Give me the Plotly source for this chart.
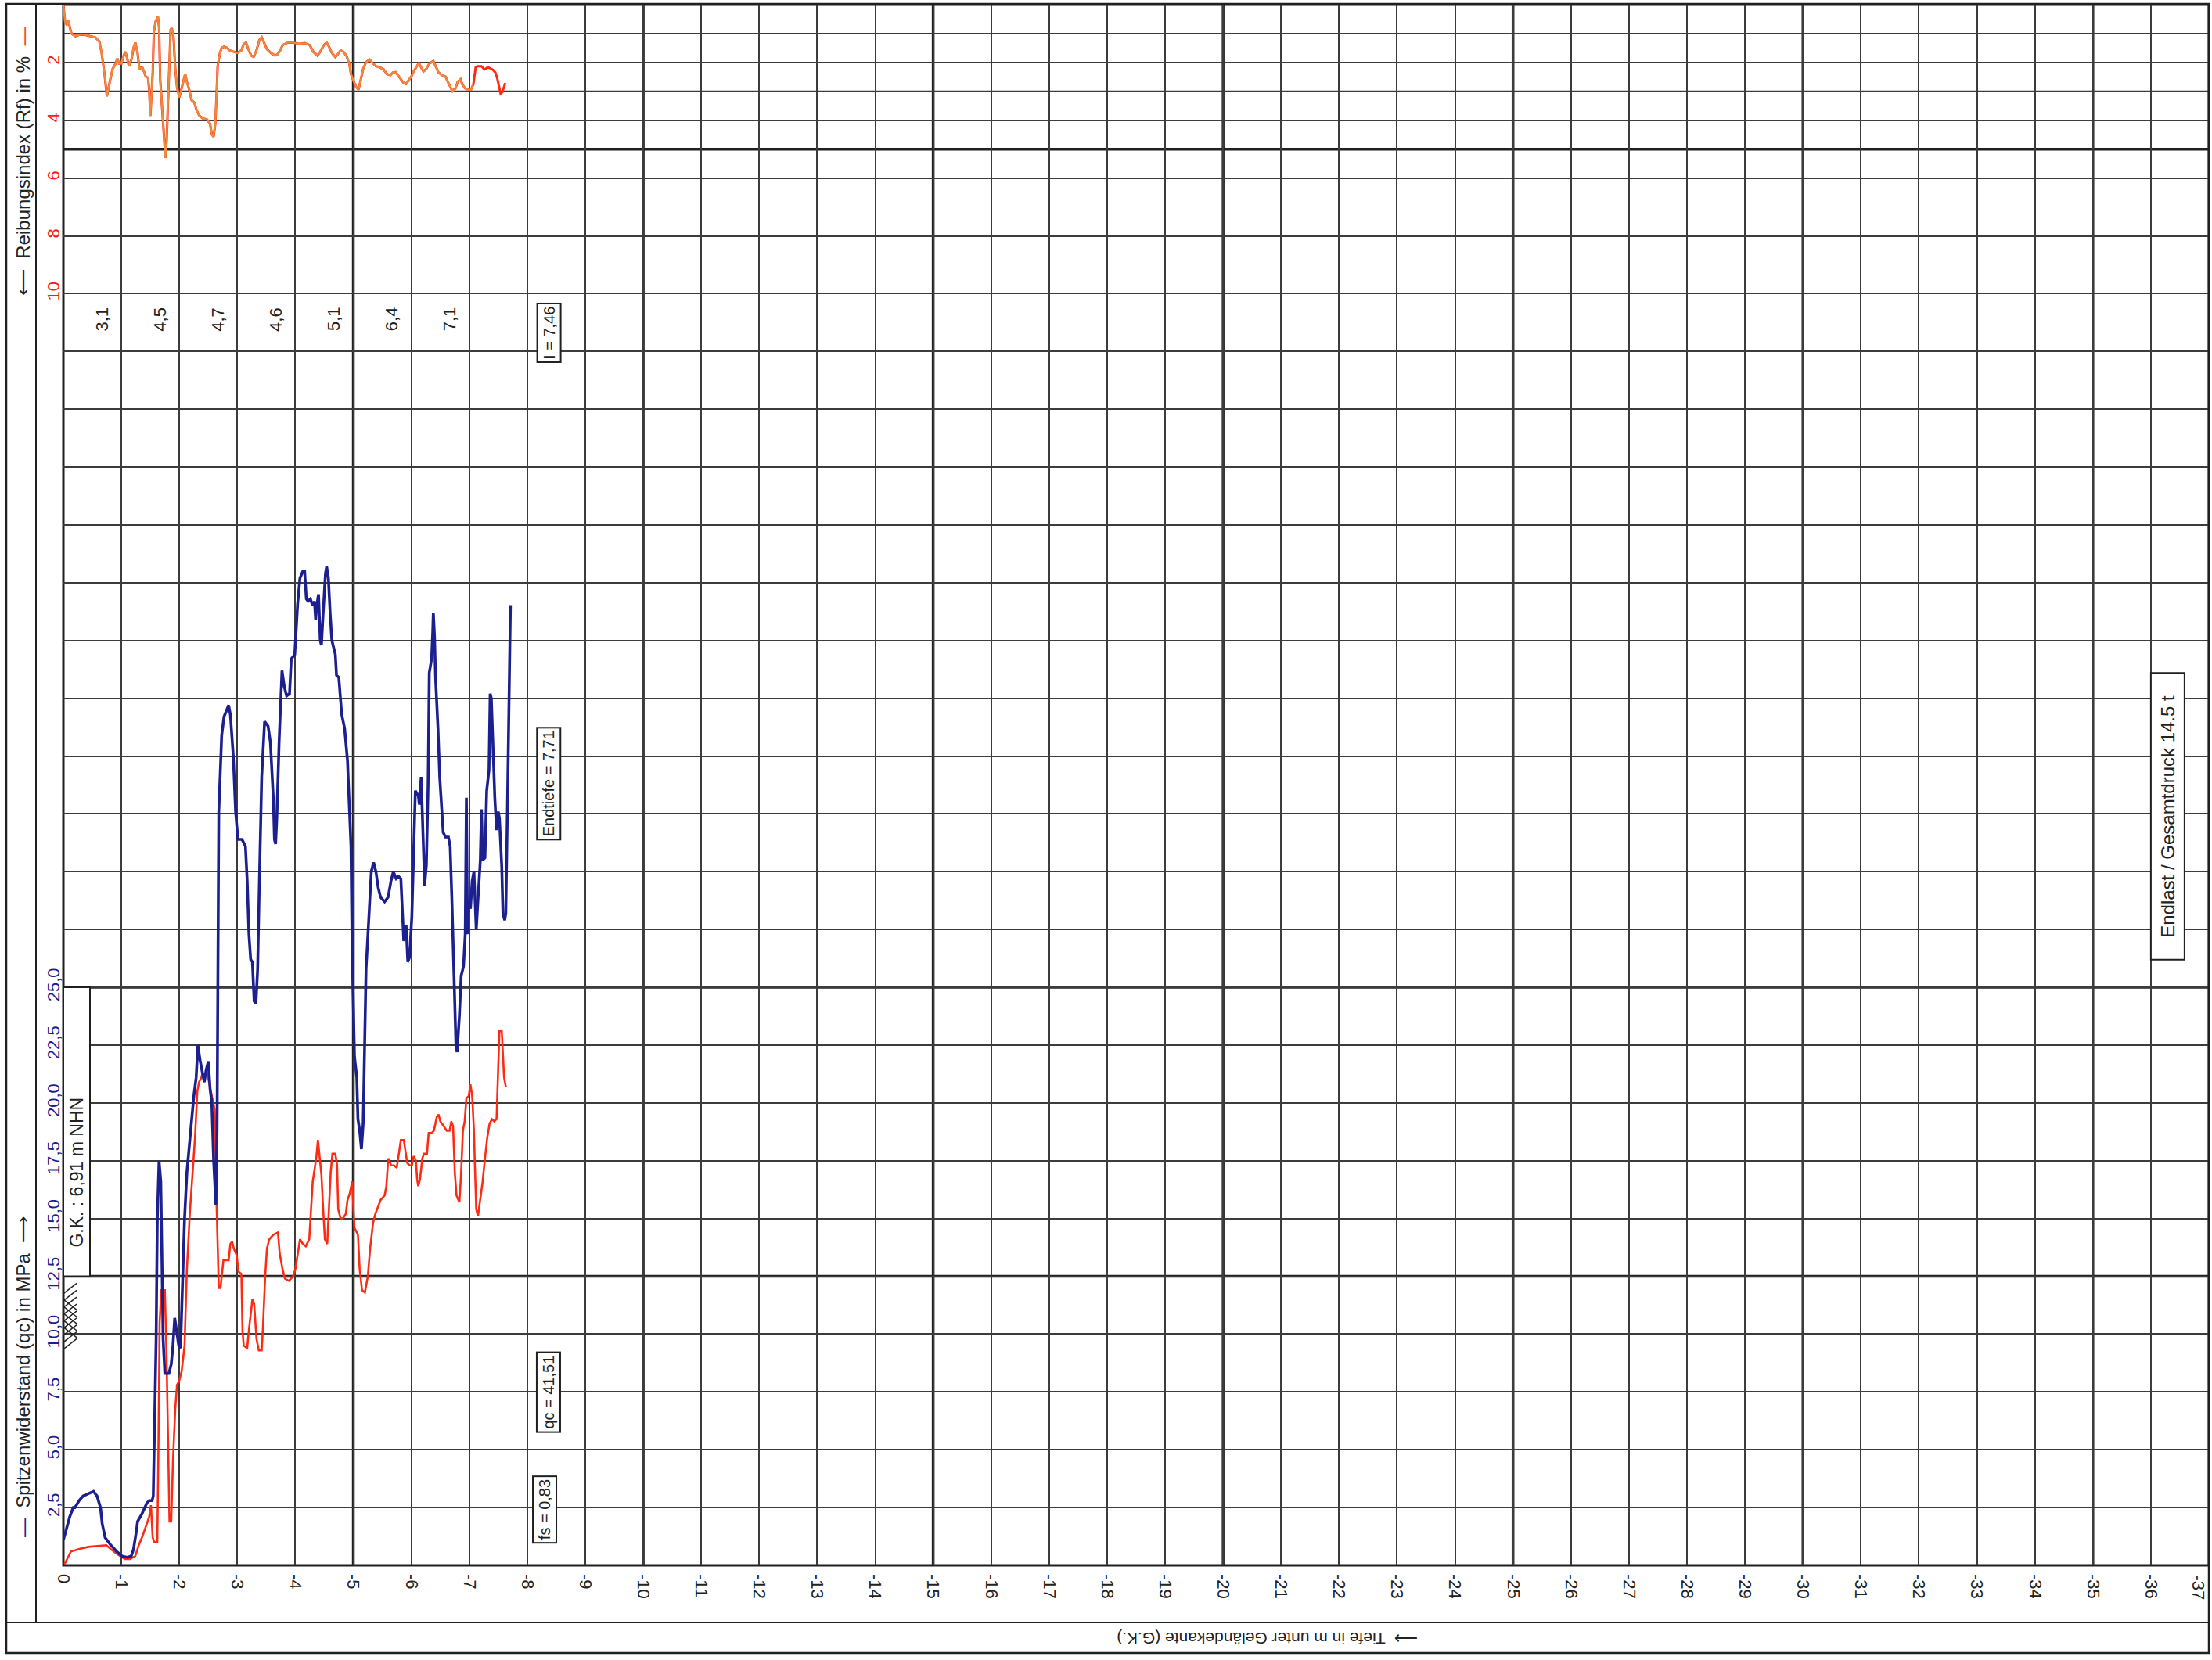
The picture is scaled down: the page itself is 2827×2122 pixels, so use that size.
import plotly.graph_objects as go

# ---------------- data ----------------
qc_depth = [0.00,0.04,0.11,0.17,0.20,0.27,0.34,0.43,0.52,0.58,0.64,0.67,0.72,0.81,0.92,1.01,1.10,1.17,1.21,1.26,
            1.28,1.35,1.39,1.44,1.48,1.53,1.55,1.57,1.60,1.62,1.65,1.68,1.70,1.72,1.75,1.82,1.86,1.89,1.92,1.96,
            1.99,2.02,2.04,2.07,2.09,2.13,2.16,2.20,2.25,2.29,2.32,2.36,2.40,2.43,2.46,2.50,2.53,2.56,2.59,2.63,
            2.65,2.67,2.68,2.73,2.77,2.85,2.88,2.93,2.97,3.01,3.08,3.14,3.17,3.20,3.23,3.26,3.29,3.32,3.35,3.38,
            3.42,3.47,3.53,3.57,3.62,3.64,3.66,3.68,3.72,3.77,3.81,3.85,3.90,3.93,3.99,4.04,4.08,4.13,4.16,4.19,
            4.22,4.26,4.30,4.33,4.35,4.37,4.40,4.43,4.45,4.48,4.52,4.54,4.57,4.60,4.63,4.69,4.71,4.75,4.80,4.85,
            4.90,4.93,4.96,4.98,5.00,5.02,5.06,5.08,5.11,5.14,5.17,5.19,5.22,5.27,5.31,5.35,5.39,5.43,5.47,5.54,
            5.60,5.65,5.69,5.74,5.78,5.82,5.85,5.87,5.91,5.94,5.97,6.01,6.04,6.07,6.12,6.14,6.17,6.19,6.21,6.23,
            6.26,6.29,6.31,6.35,6.37,6.38,6.40,6.42,6.46,6.49,6.55,6.59,6.64,6.67,6.70,6.74,6.77,6.79,6.83,6.86,
            6.90,6.93,6.95,6.97,6.99,7.02,7.05,7.08,7.10,7.12,7.15,7.19,7.21,7.23,7.27,7.30,7.34,7.36,7.38,7.41,
            7.44,7.47,7.50,7.52,7.56,7.58,7.61,7.63,7.66,7.69,7.71]
qc_values = [1.1,1.5,2.1,2.5,2.5,2.8,3.0,3.1,3.2,3.0,2.5,1.8,1.2,0.9,0.6,0.4,0.35,0.4,0.7,1.5,
             1.9,2.2,2.4,2.7,2.8,2.8,3.0,5.2,9.8,15.0,17.5,16.6,12.8,9.8,8.3,8.3,8.7,9.5,10.7,10.1,
             9.5,9.4,11.3,13.1,15.0,17.0,17.9,19.0,20.3,21.1,22.5,21.8,21.3,20.9,21.4,21.8,20.6,20.0,17.6,15.6,
             18.9,26.0,32.6,35.9,36.7,37.2,36.8,35.0,32.6,31.4,31.4,31.1,29.6,27.3,26.2,26.1,24.4,24.3,25.8,29.6,
             34.1,36.5,36.3,35.6,33.2,31.4,31.2,32.3,35.6,38.7,38.0,37.6,37.7,39.2,39.4,41.6,42.7,43.0,43.0,41.8,
             41.7,41.8,41.5,41.7,40.9,41.5,42.0,40.0,39.8,41.2,42.9,43.2,42.7,41.2,40.0,39.4,38.5,38.4,36.8,36.2,
             34.8,32.9,31.1,26.6,23.5,22.0,21.1,19.3,18.8,18.0,19.1,21.8,25.8,28.1,30.0,30.4,30.0,29.3,28.9,28.7,
             28.9,29.6,30.0,29.7,29.8,29.7,28.1,27.0,27.7,26.1,26.3,28.1,30.8,33.5,33.3,32.9,34.1,32.7,30.5,29.4,
             30.3,33.8,38.6,39.2,40.4,41.2,40.2,38.3,36.2,34.1,31.7,31.5,31.5,31.1,28.8,25.0,22.5,22.2,23.8,25.5,
             25.9,27.3,33.2,27.3,28.8,28.4,29.6,30.0,28.4,27.5,28.8,30.5,32.7,30.5,30.6,33.5,34.4,37.7,37.5,35.0,
             33.2,31.8,32.6,32.3,30.2,28.2,27.9,28.2,33.8,38.6,41.5]

fs_depth = [0.02,0.07,0.13,0.20,0.29,0.43,0.56,0.67,0.74,0.81,0.92,1.06,1.15,1.24,1.30,1.37,1.44,1.48,1.51,1.54,
            1.57,1.62,1.64,1.66,1.69,1.75,1.78,1.81,1.83,1.86,1.89,1.93,1.96,2.00,2.04,2.09,2.13,2.18,2.22,2.27,
            2.31,2.34,2.38,2.40,2.44,2.47,2.52,2.56,2.61,2.64,2.67,2.68,2.71,2.74,2.76,2.81,2.85,2.88,2.91,2.94,
            2.99,3.02,3.07,3.09,3.11,3.17,3.20,3.26,3.29,3.33,3.37,3.42,3.44,3.48,3.51,3.55,3.62,3.70,3.73,3.78,
            3.82,3.89,3.96,4.00,4.04,4.08,4.13,4.18,4.24,4.27,4.30,4.33,4.36,4.39,4.42,4.45,4.48,4.51,4.55,4.57,
            4.61,4.64,4.69,4.72,4.74,4.78,4.82,4.87,4.90,4.94,4.98,5.00,5.02,5.08,5.11,5.15,5.20,5.25,5.29,5.34,
            5.38,5.44,5.47,5.54,5.57,5.60,5.61,5.65,5.70,5.75,5.78,5.82,5.87,5.90,5.93,5.97,6.01,6.04,6.08,6.10,
            6.12,6.15,6.19,6.22,6.27,6.30,6.35,6.39,6.44,6.47,6.50,6.56,6.61,6.66,6.69,6.72,6.75,6.78,6.83,6.86,
            6.89,6.92,6.95,6.99,7.02,7.05,7.08,7.10,7.12,7.15,7.20,7.23,7.27,7.31,7.35,7.39,7.43,7.47,7.50,7.52,
            7.56,7.58,7.60,7.63]
fs_values = [0.05,0.3,0.6,0.65,0.72,0.8,0.83,0.87,0.87,0.72,0.5,0.27,0.27,0.4,0.87,1.3,1.8,2.1,2.6,1.2,
             1.0,1.0,5.2,10.5,11.9,11.9,9.0,5.2,1.9,1.9,4.5,6.8,7.8,8.0,8.4,9.5,12.8,15.2,16.6,18.5,
             20.5,20.9,21.1,21.3,21.1,21.4,20.8,20.3,19.7,15.8,12.8,12.0,12.0,12.8,13.2,13.2,13.2,13.9,14.0,13.7,
             13.4,12.7,12.6,10.1,9.5,9.4,10.2,11.5,11.3,9.8,9.3,9.3,10.2,12.5,13.7,14.1,14.3,14.4,13.5,12.8,
             12.4,12.3,12.5,12.8,13.4,14.1,13.9,13.8,14.1,15.2,16.6,17.1,17.6,18.4,17.6,16.9,15.4,14.1,13.9,15.1,
             17.0,17.8,17.8,17.3,15.4,15.0,15.0,15.2,15.8,16.1,16.6,15.5,14.6,14.3,12.8,11.9,11.8,12.5,13.7,14.8,
             15.2,15.6,15.8,16.0,16.4,17.5,17.6,17.3,17.3,17.2,17.8,18.4,18.4,17.8,17.4,17.3,17.3,17.7,17.5,16.7,
             16.4,16.7,17.6,17.8,17.8,18.7,18.7,18.8,19.4,19.5,19.2,19.0,18.8,18.8,19.2,19.0,17.0,16.0,15.7,17.0,
             18.8,19.2,20.2,20.3,20.8,20.3,18.8,17.0,15.4,15.1,16.0,16.6,17.6,18.5,19.1,19.3,19.2,19.3,21.6,23.1,
             23.1,21.9,21.1,20.7]

rf_depth = [0.00,0.03,0.06,0.09,0.11,0.14,0.21,0.28,0.37,0.46,0.55,0.62,0.66,0.71,0.75,0.80,0.85,0.90,0.93,0.96,
            1.00,1.03,1.07,1.10,1.13,1.18,1.21,1.24,1.28,1.31,1.36,1.39,1.42,1.46,1.48,1.50,1.52,1.54,1.56,1.59,
            1.63,1.65,1.67,1.71,1.74,1.76,1.78,1.81,1.83,1.85,1.87,1.90,1.93,1.96,2.00,2.03,2.07,2.10,2.13,2.17,
            2.21,2.26,2.30,2.35,2.41,2.48,2.53,2.56,2.59,2.62,2.64,2.66,2.70,2.73,2.77,2.82,2.87,2.93,3.00,3.07,
            3.11,3.15,3.19,3.24,3.28,3.33,3.38,3.42,3.47,3.51,3.58,3.65,3.69,3.74,3.78,3.87,3.96,4.07,4.16,4.25,
            4.31,4.38,4.43,4.49,4.54,4.58,4.63,4.69,4.73,4.78,4.83,4.88,4.93,4.96,5.01,5.05,5.09,5.12,5.17,5.22,
            5.28,5.32,5.39,5.46,5.52,5.58,5.64,5.68,5.73,5.77,5.82,5.86,5.91,5.95,6.00,6.04,6.09,6.13,6.17,6.21,
            6.26,6.31,6.38,6.42,6.47,6.53,6.59,6.63,6.67,6.71,6.76,6.80,6.85,6.88,6.93,6.98,7.03,7.07,7.11,7.14,
            7.21,7.26,7.32,7.36,7.41,7.45,7.48,7.51,7.54,7.57,7.60,7.62]
rf_values = [0.0,0.6,0.7,0.55,0.77,1.0,1.09,1.04,1.04,1.09,1.13,1.27,1.67,2.4,3.17,2.67,2.22,2.04,1.86,2.04,
             2.04,1.81,1.63,1.86,2.13,1.86,1.49,1.31,1.67,2.22,2.17,2.31,2.49,2.53,2.94,3.85,3.03,2.4,0.95,0.59,
             0.41,0.77,2.58,3.85,4.66,5.3,4.75,3.03,1.67,0.86,0.81,1.13,2.22,2.85,3.21,2.94,2.67,2.4,2.67,2.94,
             3.3,3.39,3.67,3.85,3.94,3.98,4.12,4.48,4.57,4.12,3.21,2.13,1.67,1.49,1.45,1.49,1.58,1.63,1.67,1.58,
             1.36,1.31,1.54,1.76,1.81,1.58,1.22,1.13,1.36,1.54,1.67,1.76,1.72,1.58,1.40,1.31,1.31,1.36,1.33,1.40,
             1.63,1.76,1.63,1.40,1.31,1.45,1.67,1.81,1.72,1.58,1.63,1.76,2.04,2.40,2.67,2.85,2.94,2.67,2.22,1.99,
             1.90,1.99,2.13,2.17,2.24,2.40,2.44,2.35,2.33,2.44,2.58,2.69,2.74,2.62,2.49,2.31,2.13,2.02,2.17,2.31,
             2.22,2.04,1.95,2.13,2.35,2.44,2.49,2.67,2.85,2.99,2.90,2.67,2.58,2.76,2.90,2.94,2.94,2.76,2.17,2.13,
             2.13,2.24,2.17,2.20,2.26,2.35,2.53,2.85,3.08,3.03,2.85,2.71]

depth_ticks = list(range(0, 38))
qc_ticks = [2.5 * i for i in range(1, 28)]
qc_labels = ["2,5", "5,0", "7,5", "10,0", "12,5", "15,0", "17,5", "20,0", "22,5", "25,0"]
rf_ticks = [2, 4, 6, 8, 10]
layer_depth = [0.67, 1.67, 2.67, 3.67, 4.67, 5.67, 6.67]
layer_labels = ["3,1", "4,5", "4,7", "4,6", "5,1", "6,4", "7,1"]

# ---------------- geometry ----------------
W, H = 2827, 2122
L, R, T, B = 81, 4, 6, 121
PW, PH = W - L - R, H - T - B
QC_MAX = 67.5
RF_SPAN = QC_MAX / 1.25        # Rf axis: 0 at top, 10 at qc 55

def px(xp):
    return (xp - L) / PW

def py(yp):
    return (H - B - yp) / PH

BLUE = "#1c1f8f"
RED = "#ff2a14"
ORANGE = "#ef8a3c"
GRID = "#3c3c3c"
DARK = "#202020"
FONT = "Liberation Sans, Arial, sans-serif"

fig = go.Figure()
fig.add_trace(go.Scatter(x=[-d for d in fs_depth], y=fs_values, mode="lines",
                         line=dict(color=RED, width=2.6), hoverinfo="skip", showlegend=False))
fig.add_trace(go.Scatter(x=[-d for d in qc_depth], y=qc_values, mode="lines",
                         line=dict(color=BLUE, width=3.6), hoverinfo="skip", showlegend=False))
fig.add_trace(go.Scatter(x=[-d for d in rf_depth], y=rf_values, yaxis="y2", mode="lines",
                         line=dict(color=RED, width=3.0), hoverinfo="skip", showlegend=False))
n_or = sum(1 for d in rf_depth if d <= 7.07)
fig.add_trace(go.Scatter(x=[-d for d in rf_depth[:n_or]], y=rf_values[:n_or], yaxis="y2", mode="lines",
                         line=dict(color=ORANGE, width=2.4), hoverinfo="skip", showlegend=False))

shapes = []
# thick grid lines
for d in range(5, 37, 5):
    shapes.append(dict(type="line", xref="x", yref="paper", x0=-d, x1=-d, y0=0, y1=1,
                       line=dict(color=DARK, width=3.5), layer="between"))
for q in [12.5, 25]:
    shapes.append(dict(type="line", xref="paper", yref="y", x0=0, x1=1, y0=q, y1=q,
                       line=dict(color=DARK, width=3.5), layer="between"))
for r, w in [(1, 2), (3, 2), (5, 3.5)]:
    shapes.append(dict(type="line", xref="paper", yref="y2", x0=0, x1=1, y0=r, y1=r,
                       line=dict(color=GRID if w < 3 else DARK, width=w), layer="between"))
# plot border
shapes.append(dict(type="rect", xref="paper", yref="paper", x0=0, x1=1, y0=0, y1=1,
                   line=dict(color=DARK, width=3), layer="between"))
# outer frame / left strip / bottom strip
shapes.append(dict(type="rect", xref="paper", yref="paper", x0=px(8), x1=1, y0=py(2113), y1=py(5),
                   line=dict(color=DARK, width=2.5)))
shapes.append(dict(type="line", xref="paper", yref="paper", x0=px(46), x1=px(46), y0=py(2074), y1=py(5),
                   line=dict(color=DARK, width=2)))
shapes.append(dict(type="line", xref="paper", yref="paper", x0=px(8), x1=1, y0=py(2074), y1=py(2074),
                   line=dict(color=DARK, width=2)))
# G.K. box
shapes.append(dict(type="rect", xref="paper", yref="y", x0=0, x1=px(115), y0=12.5, y1=25,
                   line=dict(color=DARK, width=2), fillcolor="white", layer="above"))
# Endlast box
shapes.append(dict(type="rect", xref="x", yref="y", x0=-36.0, x1=-36.58, y0=26.2, y1=38.6,
                   line=dict(color=DARK, width=2), fillcolor="white", layer="above"))
# ground hatch symbol
hx0, hx1 = 0.0, -0.23
for i in range(9):
    y0 = 12.2 - i * 0.3
    shapes.append(dict(type="line", xref="x", yref="y", x0=hx0, x1=hx1, y0=y0 - 0.45, y1=y0,
                       line=dict(color=DARK, width=1.5), layer="above"))
for i in range(5):
    y0 = 11.5 - i * 0.3
    shapes.append(dict(type="line", xref="x", yref="y", x0=hx0, x1=hx1, y0=y0, y1=y0 - 0.45,
                       line=dict(color=DARK, width=1.5), layer="above"))

C = dict(xanchor="center", yanchor="middle", showarrow=False)
ann = []
ann.append(dict(xref="paper", yref="paper", x=px(29), y=py(1760), textangle=-90,
                text='<span style="color:%s">—</span>  Spitzenwiderstand (qc) in MPa  ⟶' % BLUE,
                font=dict(size=24, color="#222", family=FONT), **C))
ann.append(dict(xref="paper", yref="paper", x=px(29), y=py(207), textangle=-90,
                text='⟵  Reibungsindex (Rf) in %  <span style="color:#ff3a1a">—</span>',
                font=dict(size=24, color="#222", family=FONT), **C))
ann.append(dict(xref="paper", yref="paper", x=px(1620), y=py(2095), textangle=180,
                text="⟶  Tiefe in m unter Geländekante (G.K.)",
                font=dict(size=21, color="#222", family=FONT), **C))
# last depth label sits at the page edge (kept fully inside the page)
ann.append(dict(xref="x", yref="paper", x=-depth_ticks[-1], y=py(2011), textangle=90,
                text="-%d" % depth_ticks[-1], xanchor="right", yanchor="top", showarrow=False,
                font=dict(size=22, color="#222", family=FONT)))
for d, t in zip(layer_depth, layer_labels):
    ann.append(dict(x=-d, y=53.9, text=t, textangle=-90,
                    font=dict(size=22, color="#222", family=FONT), **C))
box_style = dict(textangle=-90, bordercolor=DARK, borderwidth=2, borderpad=3,
                 bgcolor="white", font=dict(size=20, color="#222", family=FONT), **C)
ann.append(dict(x=-8.37, y=53.3, text="I = 7,46", **box_style))
ann.append(dict(x=-8.37, y=33.8, text="Endtiefe = 7,71", **box_style))
ann.append(dict(x=-8.37, y=7.5, text="qc = 41,51", **box_style))
ann.append(dict(x=-8.30, y=2.4, text="fs = 0,83", **box_style))
ann.append(dict(xref="paper", yref="y", x=px(98), y=17.0, text="G.K. : 6,91 m NHN", textangle=-90,
                font=dict(size=23, color="#222", family=FONT), **C))
ann.append(dict(x=-36.29, y=32.4, text="Endlast / Gesamtdruck 14.5 t", textangle=-90,
                font=dict(size=24, color="#222", family=FONT), **C))

fig.update_layout(
    width=W, height=H, autosize=False,
    margin=dict(l=L, r=R, t=T, b=B, pad=0),
    paper_bgcolor="white", plot_bgcolor="white",
    font=dict(family=FONT),
    showlegend=False,
    xaxis=dict(range=[0, -37], tickvals=[-d for d in depth_ticks],
               ticktext=[("-%d" % d) if d else "0" for d in depth_ticks],
               tickangle=90, tickfont=dict(size=22, color="#222"), ticklabelstandoff=10,
               showgrid=True, gridcolor=GRID, gridwidth=2, zeroline=False, showline=False,
               ticks="", fixedrange=True),
    yaxis=dict(range=[0, QC_MAX], tickvals=qc_ticks,
               ticktext=qc_labels + [""] * (len(qc_ticks) - len(qc_labels)),
               tickangle=-90, tickfont=dict(size=22, color=BLUE),
               showgrid=True, gridcolor=GRID, gridwidth=2, zeroline=False, showline=False,
               ticks="", fixedrange=True),
    yaxis2=dict(range=[RF_SPAN, 0], overlaying="y", side="left", anchor="x",
                tickvals=rf_ticks, ticktext=[str(v) for v in rf_ticks],
                tickangle=-90, tickfont=dict(size=22, color="#ff1a1a"),
                showgrid=False, zeroline=False, showline=False, ticks="", fixedrange=True),
    shapes=shapes, annotations=ann,
)

fig.write_html("out.html", config={"displayModeBar": False})
